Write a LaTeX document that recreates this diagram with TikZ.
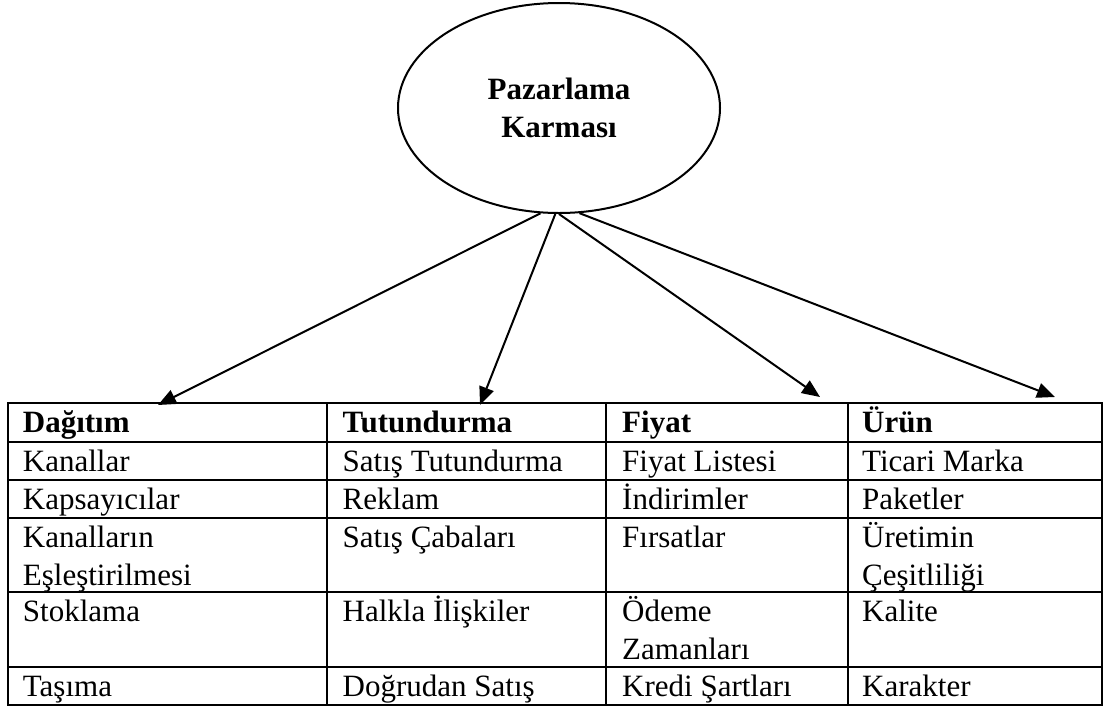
\documentclass[tikz,border=0pt]{standalone}
\usepackage{fontspec}
\setmainfont{Liberation Serif}
\usetikzlibrary{arrows.meta,shapes.geometric}

\tikzset{
	hucre/.style={anchor=north west,inner sep=0pt,align=left,font=\fontsize{31}{38}\selectfont},
	baslik/.style={hucre,font=\fontsize{31}{38}\selectfont\bfseries},
	ok/.style={line width=2pt,-{Triangle[length=18pt,width=15pt]}},
	tablo/.style={line width=2pt},
}

\begin{document}
\begin{tikzpicture}[x=1pt,y=-1pt]
		\useasboundingbox (0,0) rectangle (1105,710);
		
		\node[ellipse,draw,line width=2pt,minimum width=322pt,minimum height=210pt,inner sep=0pt,align=center,font=\fontsize{31}{38}\selectfont\bfseries] (karma) at (559,108) {Pazarlama\\Karması};
		
		% tablo cizgileri
		\draw[tablo] (8,403) rectangle (1102,705);
		\foreach \y in {441.5,480,518,592,667}
			\draw[tablo] (8,\y) -- (1102,\y);
		\foreach \x in {327,606,848}
			\draw[tablo] (\x,403) -- (\x,705);
		
		% basliklar
		\node[baslik] (dagitim) at (22.7,405.9) {\strut Dağıtım};
		\node[baslik] (tutundurma) at (342.5,405.9) {\strut Tutundurma};
		\node[baslik] (fiyat) at (622,405.9) {\strut Fiyat};
		\node[baslik] (urun) at (862,405.9) {\strut Ürün};
		
		\node[hucre] (d1) at (22.7,444.4) {\strut Kanallar};
		\node[hucre] (d2) at (22.7,482.9) {\strut Kapsayıcılar};
		\node[hucre] (d3) at (22.7,520.9) {\strut Kanalların\\\strut Eşleştirilmesi};
		\node[hucre] (d4) at (22.7,594.9) {\strut Stoklama};
		\node[hucre] (d5) at (22.7,669.9) {\strut Taşıma};
		
		\node[hucre] (t1) at (342.5,444.4) {\strut Satış Tutundurma};
		\node[hucre] (t2) at (342.5,482.9) {\strut Reklam};
		\node[hucre] (t3) at (342.5,520.9) {\strut Satış Çabaları};
		\node[hucre] (t4) at (342.5,594.9) {\strut Halkla İlişkiler};
		\node[hucre] (t5) at (342.5,669.9) {\strut Doğrudan Satış};
		
		\node[hucre] (f1) at (622,444.4) {\strut Fiyat Listesi};
		\node[hucre] (f2) at (622,482.9) {\strut İndirimler};
		\node[hucre] (f3) at (622,520.9) {\strut Fırsatlar};
		\node[hucre] (f4) at (622,594.9) {\strut Ödeme\\\strut Zamanları};
		\node[hucre] (f5) at (622,669.9) {\strut Kredi Şartları};
		
		\node[hucre] (u1) at (862,444.4) {\strut Ticari Marka};
		\node[hucre] (u2) at (862,482.9) {\strut Paketler};
		\node[hucre] (u3) at (862,520.9) {\strut Üretimin\\\strut Çeşitliliği};
		\node[hucre] (u4) at (862,594.9) {\strut Kalite};
		\node[hucre] (u5) at (862,669.9) {\strut Karakter};
		
		% oklar
		\coordinate (okD) at (158,405);
		\coordinate (okT) at (480,405);
		\coordinate (okF) at (820,397);
		\coordinate (okU) at (1055,397);
		\draw[ok] (karma.-100.3) -- (okD);
		\draw[ok] (karma.-92.2) -- (okT);
		\draw[ok] (karma.-90.6) -- (okF);
		\draw[ok] (karma.-79) -- (okU);
	\end{tikzpicture}
\end{document}
